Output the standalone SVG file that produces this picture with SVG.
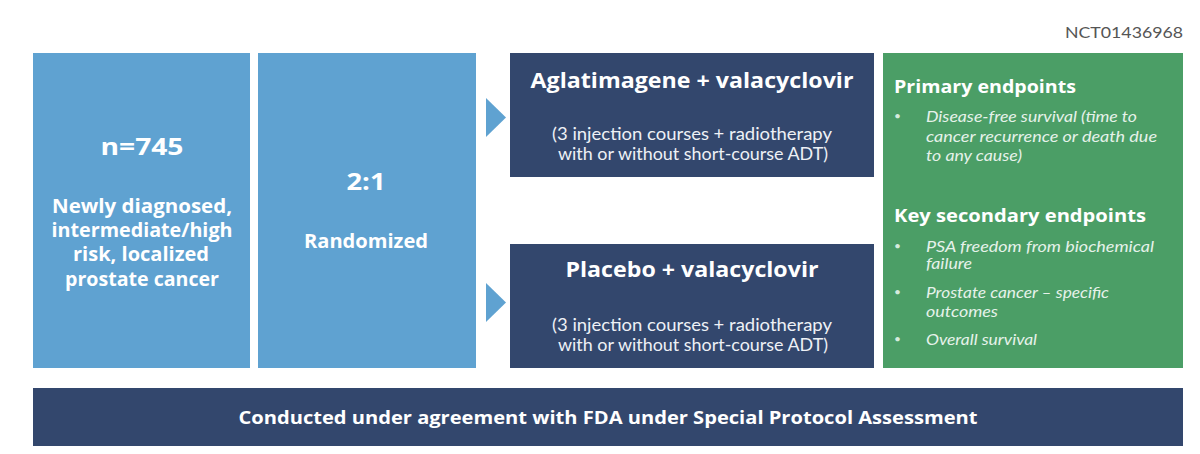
<svg xmlns="http://www.w3.org/2000/svg" width="1200" height="454" viewBox="0 0 1200 454">
<style>
.lb{fill:#5fa2d1}
.dk{fill:#33476d}
.gr{fill:#4b9e66}
text{font-family:"Open Sans",Lato,"Liberation Sans",sans-serif;fill:#fff}
.b{font-weight:bold}
.c{text-anchor:middle}
.it{font-family:Lato,"Open Sans",sans-serif;font-style:italic;font-size:16px;fill:#e6f2ea}
.bu{font-family:Lato,"Open Sans",sans-serif;font-size:12px;fill:#d6ebdd}
.sub{font-family:Lato,"Open Sans",sans-serif;font-size:17px;fill:#eef1f6}
</style>
<rect width="1200" height="454" fill="#fff"/>
<text x="1183" y="38" text-anchor="end" font-size="16" textLength="118" lengthAdjust="spacingAndGlyphs" style="fill:#555;font-family:Lato,'Open Sans',sans-serif">NCT01436968</text>
<g id="population">
<rect class="lb" x="33" y="53" width="217" height="315"/>
<text class="b c" x="142" y="155" font-size="24" textLength="83" lengthAdjust="spacingAndGlyphs">n=745</text>
<text class="b c" x="142" y="213" font-size="19" textLength="180" lengthAdjust="spacingAndGlyphs">Newly diagnosed,</text>
<text class="b c" x="142" y="237" font-size="19" textLength="181" lengthAdjust="spacingAndGlyphs">intermediate/high</text>
<text class="b c" x="141" y="261" font-size="19" textLength="136" lengthAdjust="spacingAndGlyphs">risk, localized</text>
<text class="b c" x="142" y="286" font-size="19" textLength="154" lengthAdjust="spacingAndGlyphs">prostate cancer</text>
</g>
<g id="randomization">
<rect class="lb" x="258" y="53" width="218" height="315"/>
<text class="b c" x="366" y="190" font-size="24" textLength="39" lengthAdjust="spacingAndGlyphs">2:1</text>
<text class="b c" x="366" y="248" font-size="19" textLength="124" lengthAdjust="spacingAndGlyphs">Randomized</text>
</g>
<g id="connectors">
<polygon class="lb" points="486,98 506,117.5 486,137"/>
<polygon class="lb" points="486,283 506,302.5 486,322"/>
</g>
<g id="arm-aglatimagene">
<rect class="dk" x="510" y="53" width="364" height="124"/>
<text class="b c" x="692" y="88" font-size="21.5" textLength="323" lengthAdjust="spacingAndGlyphs">Aglatimagene + valacyclovir</text>
<text class="sub c" x="692" y="140" textLength="280" lengthAdjust="spacingAndGlyphs">(3 injection courses + radiotherapy</text>
<text class="sub c" x="693" y="160" textLength="270" lengthAdjust="spacingAndGlyphs">with or without short-course ADT)</text>
</g>
<g id="arm-placebo">
<rect class="dk" x="510" y="244" width="364" height="124"/>
<text class="b c" x="692" y="277" font-size="21.5" textLength="253" lengthAdjust="spacingAndGlyphs">Placebo + valacyclovir</text>
<text class="sub c" x="692" y="331" textLength="280" lengthAdjust="spacingAndGlyphs">(3 injection courses + radiotherapy</text>
<text class="sub c" x="693" y="351" textLength="270" lengthAdjust="spacingAndGlyphs">with or without short-course ADT)</text>
</g>
<g id="endpoints">
<rect class="gr" x="883" y="53" width="300" height="315"/>
<text class="b" x="894" y="93" font-size="18.5" textLength="182" lengthAdjust="spacingAndGlyphs">Primary endpoints</text>
<text class="bu" x="894" y="120">•</text>
<text class="it" x="926" y="122" textLength="211" lengthAdjust="spacingAndGlyphs">Disease-free survival (time to</text>
<text class="it" x="926" y="142" textLength="231" lengthAdjust="spacingAndGlyphs">cancer recurrence or death due</text>
<text class="it" x="926" y="161" textLength="96" lengthAdjust="spacingAndGlyphs">to any cause)</text>
<text class="b" x="894" y="222" font-size="18.5" textLength="252" lengthAdjust="spacingAndGlyphs">Key secondary endpoints</text>
<text class="bu" x="894" y="250">•</text>
<text class="it" x="926" y="252" textLength="228" lengthAdjust="spacingAndGlyphs">PSA freedom from biochemical</text>
<text class="it" x="926" y="269" textLength="46" lengthAdjust="spacingAndGlyphs">failure</text>
<text class="bu" x="894" y="296">•</text>
<text class="it" x="926" y="298" textLength="183" lengthAdjust="spacingAndGlyphs">Prostate cancer – specific</text>
<text class="it" x="926" y="317" textLength="72" lengthAdjust="spacingAndGlyphs">outcomes</text>
<text class="bu" x="894" y="343">•</text>
<text class="it" x="926" y="345" textLength="111" lengthAdjust="spacingAndGlyphs">Overall survival</text>
</g>
<g id="footer">
<rect class="dk" x="33" y="388" width="1150" height="58"/>
<text class="b c" x="608" y="424" font-size="18" textLength="739" lengthAdjust="spacingAndGlyphs">Conducted under agreement with FDA under Special Protocol Assessment</text>
</g>
</svg>
